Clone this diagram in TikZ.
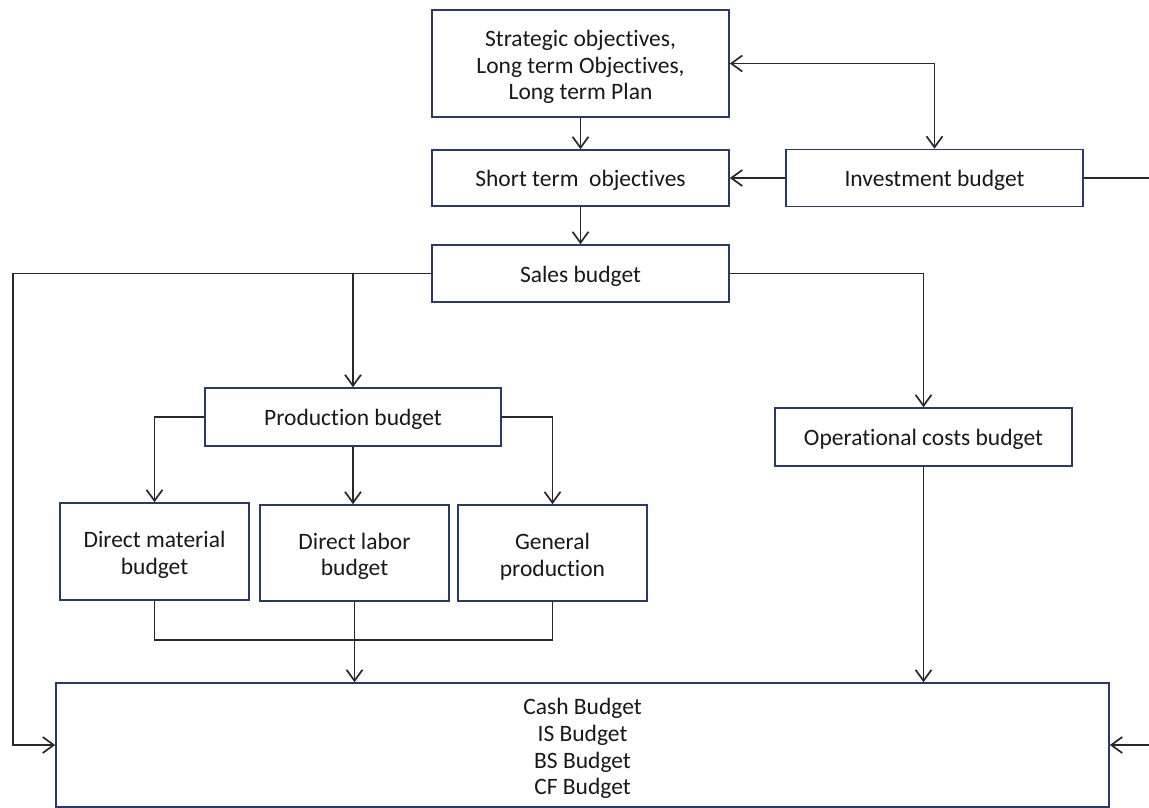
\documentclass[tikz,border=0pt]{standalone}
\usepackage{fontspec}
\setmainfont{Carlito}[Ligatures=NoCommon]
\usetikzlibrary{arrows.meta}
\definecolor{boxblue}{RGB}{38,58,112}
\definecolor{wire}{RGB}{40,40,40}
\definecolor{ink}{RGB}{25,25,25}
% taller first line, so the text sits a little below the box centre
\newcommand{\boxstrut}{\rule{0pt}{23.5pt}}
\tikzset{
  box/.style={rectangle, draw=boxblue, line width=1.6pt, align=center,
    text=ink, inner sep=0pt, font=\fontsize{23.5}{26.5}\selectfont,
    execute at begin node={\rule{0pt}{21.5pt}}},
  link/.style={draw=wire, line width=1.7pt},
  barb/.tip={Straight Barb[length=11pt,width=16pt,line width=1.7pt]},
  arr/.style={link, -barb},
  arrboth/.style={link, barb-barb}
}
\begin{document}
\begin{tikzpicture}[x=1pt,y=-1pt]
\useasboundingbox (0,0) rectangle (1149,807);
\clip (0,0) rectangle (1149,807);
\fill[white] (0,0) rectangle (1149,807);

% boxes
\node[box, minimum width=297pt, minimum height=107pt] (strat) at (580.5,63.5)
  {\boxstrut Strategic objectives,\\Long term Objectives,\\Long term Plan};
\node[box, minimum width=297pt, minimum height=56pt] (short) at (580.5,178) {Short term\ \ objectives};
\node[box, minimum width=297pt, minimum height=57pt] (invest) at (934.5,178) {Investment budget};
\node[box, minimum width=297pt, minimum height=57pt] (sales) at (580.5,273.5) {Sales budget};
\node[box, minimum width=296pt, minimum height=58pt] (prod) at (353,417) {Production budget};
\node[box, minimum width=297pt, minimum height=58pt] (oper) at (923.5,437) {Operational costs budget};
\node[box, minimum width=189pt, minimum height=97pt] (dmat) at (154.5,551.5) {\boxstrut Direct material\\budget};
\node[box, minimum width=189pt, minimum height=96pt] (dlab) at (354.5,553) {\boxstrut Direct labor\\budget};
\node[box, minimum width=189pt, minimum height=96pt] (gprod) at (552.5,553) {\boxstrut General\\production};
\node[box, minimum width=1053pt, minimum height=124pt, font=\fontsize{23.5}{26.7}\selectfont]
  (fin) at (582.5,745) {\boxstrut Cash Budget\\IS Budget\\BS Budget\\CF Budget};

% routing points
\coordinate (lrail) at (13,273.5);
\coordinate (rtop) at (1165,178);
\coordinate (mrg) at (154.5,640);

% top chain
\draw[arr] (strat) -- (short);
\draw[arr] (short) -- (sales);
\draw[arrboth] (strat.east) -| (invest.north);
\draw[arr] (invest.west) -- (short.east);
\draw[arr] (invest.east) -- (rtop) |- (fin.east);

% sales budget outputs
\draw[arr] (sales.west) -- (lrail) |- (fin.west);
\draw[arr] (sales.west -| prod.north) -- (prod.north);
\draw[arr] (sales.east) -| (oper.north);

% production budget outputs
\draw[arr] (prod.west) -| (dmat.north);
\draw[arr] (prod.south) -- (prod.south |- dlab.north);
\draw[arr] (prod.east) -| (gprod.north);

% merge into the summary budgets
\draw[link] (dmat.south) -- (mrg) -| (gprod.south);
\draw[arr] (dlab.south) -- (dlab.south |- fin.north);
\draw[arr] (oper.south) -- (oper.south |- fin.north);
\end{tikzpicture}
\end{document}
